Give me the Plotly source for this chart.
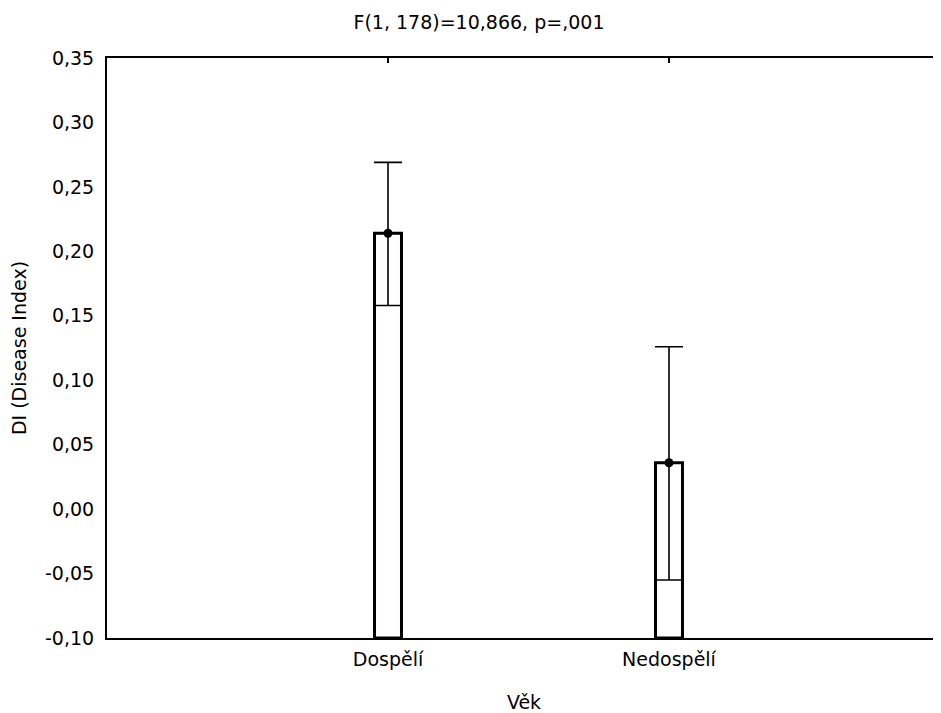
import plotly.graph_objects as go

categories = ["Dospělí", "Nedospělí"]
means = [0.214, 0.036]
ci_upper = [0.269, 0.126]
ci_lower = [0.158, -0.055]
baseline = -0.10
y_tickvals = [0.35, 0.30, 0.25, 0.20, 0.15, 0.10, 0.05, 0.00, -0.05, -0.10]
y_ticktext = ["0,35", "0,30", "0,25", "0,20", "0,15", "0,10", "0,05", "0,00", "-0,05", "-0,10"]

xpos = list(range(len(categories)))
FONT = "DejaVu Sans, Verdana, sans-serif"

fig = go.Figure()
fig.add_trace(go.Bar(
    x=xpos, y=[m - baseline for m in means], base=baseline, width=0.096,
    marker=dict(color="white", line=dict(color="black", width=3)),
    showlegend=False, hoverinfo="skip"))
fig.add_trace(go.Scatter(
    x=xpos, y=means, mode="markers",
    marker=dict(color="black", size=9),
    error_y=dict(type="data", symmetric=False,
                 array=[u - m for u, m in zip(ci_upper, means)],
                 arrayminus=[m - l for m, l in zip(means, ci_lower)],
                 color="black", thickness=1.6, width=14),
    showlegend=False))
# invisible trace so that the top axis (with its inner ticks) is drawn
fig.add_trace(go.Scatter(
    x=xpos, y=means, xaxis="x2", mode="markers",
    marker=dict(opacity=0), showlegend=False, hoverinfo="skip"))

W, H = 933, 705
fig.update_layout(
    width=W, height=H,
    margin=dict(l=99, r=0, t=50, b=75),
    plot_bgcolor="white", paper_bgcolor="white",
    font=dict(family=FONT, size=19, color="black"),
    title=dict(text="F(1, 178)=10,866, p=,001", x=(479 - 8) / W, xanchor="center",
               y=1 - 14 / H, yanchor="middle", yref="container",
               font=dict(family=FONT, size=19, color="black")),
    xaxis=dict(range=[-1, 1.968], tickvals=xpos, ticktext=categories,
               showline=True, linecolor="black", linewidth=2,
               ticks="", showgrid=False, zeroline=False, ticklabelstandoff=3,
               tickfont=dict(size=19),
               title=dict(text="Věk", standoff=28, font=dict(size=19))),
    xaxis2=dict(range=[-1, 1.968], tickvals=xpos, overlaying="x", side="top",
                showline=True, linecolor="black", linewidth=2,
                ticks="inside", ticklen=5, tickwidth=1.5, tickcolor="black",
                showticklabels=False, showgrid=False, zeroline=False),
    yaxis=dict(range=[baseline, 0.35], tickvals=y_tickvals, ticktext=y_ticktext,
               showline=True, linecolor="black", linewidth=2,
               ticks="", showgrid=False, zeroline=False, ticklabelstandoff=7,
               tickfont=dict(size=19),
               title=dict(text="DI (Disease Index)", standoff=20,
                          font=dict(size=19))),
)
fig.write_html("out.html")
